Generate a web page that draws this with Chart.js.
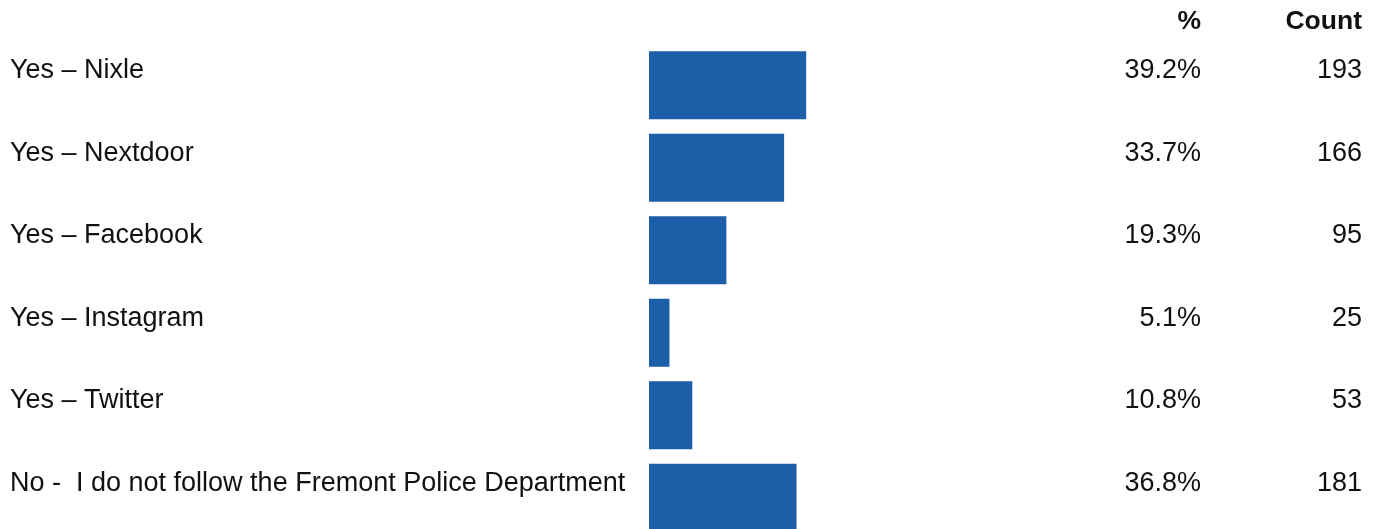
<!DOCTYPE html>
<html>
<head>
<meta charset="utf-8">
<script src="https://cdn.jsdelivr.net/npm/chart.js@4/dist/chart.umd.min.js"></script>
<style>
  html, body { margin: 0; padding: 0; background: #fff; overflow: hidden; }
  #wrap { width: 1378px; height: 529px; overflow: hidden; }
</style>
</head>
<body>
<div id="wrap"><canvas id="chart" width="1378" height="545"></canvas></div>
<script>
// data
const categories = [
  'Yes \u2013 Nixle',
  'Yes \u2013 Nextdoor',
  'Yes \u2013 Facebook',
  'Yes \u2013 Instagram',
  'Yes \u2013 Twitter',
  'No -  I do not follow the Fremont Police Department'
];
const percents = [39.2, 33.7, 19.3, 5.1, 10.8, 36.8];
const counts = [193, 166, 95, 25, 53, 181];
const headers = ['%', 'Count'];

const FONT = '"Liberation Sans", Arial, sans-serif';

// draws the row labels and the two value columns next to the bars
const tablePlugin = {
  id: 'tableText',
  afterDraw(chart) {
    const ctx = chart.ctx;
    const yScale = chart.scales.y;
    ctx.save();
    ctx.fillStyle = '#111';
    ctx.textBaseline = 'alphabetic';

    ctx.font = 'bold 26.5px ' + FONT;
    ctx.textAlign = 'right';
    ctx.fillText(headers[0], 1201, 29);
    ctx.fillText(headers[1], 1362, 29);

    ctx.font = '27px ' + FONT;
    categories.forEach((c, i) => {
      const y = yScale.getPixelForValue(i) - 7;
      ctx.textAlign = 'left';
      ctx.fillText(c, 10, y);
      ctx.textAlign = 'right';
      ctx.fillText(percents[i].toFixed(1) + '%', 1201, y);
      ctx.fillText(String(counts[i]), 1362, y);
    });
    ctx.restore();
  }
};

new Chart(document.getElementById('chart'), {
  type: 'bar',
  data: {
    labels: categories,
    datasets: [{
      data: percents,
      backgroundColor: '#1c5ea8',
      barPercentage: 0.824,
      categoryPercentage: 1
    }]
  },
  options: {
    indexAxis: 'y',
    responsive: false,
    animation: false,
    layout: { padding: { left: 649, right: 328, top: 44, bottom: 6 } },
    plugins: { legend: { display: false }, tooltip: { enabled: false } },
    scales: {
      x: { display: false, min: 0, max: 100 },
      y: { display: false }
    }
  },
  plugins: [tablePlugin]
});
</script>
</body>
</html>
